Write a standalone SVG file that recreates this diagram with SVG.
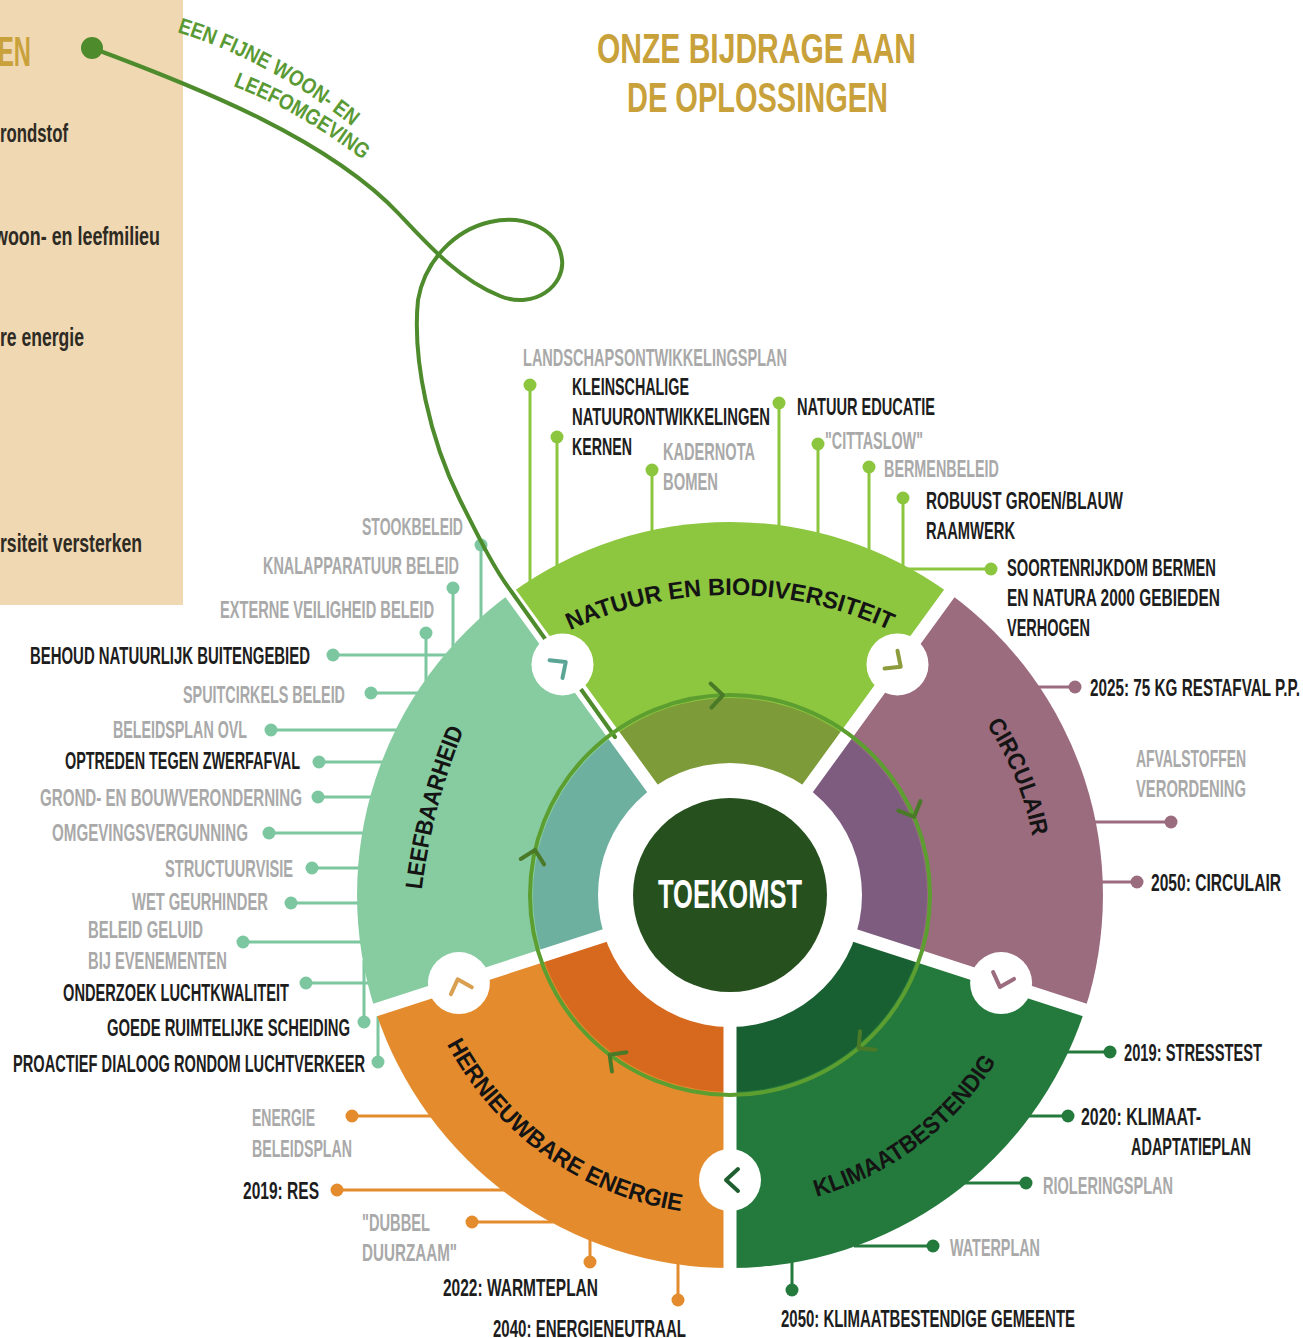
<svg xmlns="http://www.w3.org/2000/svg" width="1303" height="1338" viewBox="0 0 1303 1338">
<defs>
<style>
.t{font-family:"Liberation Sans",Arial,sans-serif;font-weight:bold;font-size:24px}
.k{fill:#1d1d1d}
.g{fill:#a9a9a9}
.sl{font-family:"Liberation Sans",Arial,sans-serif;font-weight:bold;font-size:24px;fill:#141414}
.gap{stroke:#fff;stroke-width:13;fill:none}
.notch{fill:#fff}
.chev{fill:none;stroke-width:4;stroke-linecap:round;stroke-linejoin:round}
.ln{fill:none;stroke-width:3}
</style>
<path id="pNat" d="M523 656.3 A380 380 0 0 1 937 656.3"/>
<path id="pCir" d="M918.3 651.3 A308 308 0 0 1 1035.2 936.3"/>
<path id="pKli" d="M757.4 1207.8 A314 314 0 0 0 1023.1 1007.5"/>
<path id="pHer" d="M426.5 996.5 A320 320 0 0 0 732.8 1215.0"/>
<path id="pLee" d="M421 898 Q430 810 467 722"/>
<path id="pTh1" d="M177 32 Q272 62 353 127"/>
<path id="pTh2" d="M233 86 Q300 112 360 158"/>
</defs>
<rect width="1303" height="1338" fill="#fff"/>

<g id="panel">
<rect x="0" y="0" width="183" height="605" fill="#efd8b2"/>
<text x="-2" y="66" font-family="Liberation Sans,Arial,sans-serif" font-weight="bold" font-size="42" fill="#c9a13b" textLength="33" lengthAdjust="spacingAndGlyphs">EN</text>
<g font-family="Liberation Sans,Arial,sans-serif" font-weight="bold" font-size="26" fill="#2e2a24">
<text x="0" y="142" textLength="68" lengthAdjust="spacingAndGlyphs">rondstof</text>
<text x="-6" y="245" textLength="166" lengthAdjust="spacingAndGlyphs">woon- en leefmilieu</text>
<text x="0" y="346" textLength="84" lengthAdjust="spacingAndGlyphs">re energie</text>
<text x="0" y="552" textLength="142" lengthAdjust="spacingAndGlyphs">rsiteit versterken</text>
</g>
</g>

<g id="title" font-family="Liberation Sans,Arial,sans-serif" font-weight="bold" font-size="43" fill="#c9a13b">
<text x="597" y="63" textLength="319" lengthAdjust="spacingAndGlyphs">ONZE BIJDRAGE AAN</text>
<text x="627" y="112" textLength="261" lengthAdjust="spacingAndGlyphs">DE OPLOSSINGEN</text>
</g>

<g id="connectors">
<g class="ln" stroke="#8cc63f">
<path d="M530 385V582M557 437V566M652 470V532M779 403V527M818 444V535M869 467V551M903 498V566M991 569H903"/>
</g>
<g fill="#8cc63f">
<circle cx="530" cy="385" r="6.5"/><circle cx="557" cy="437" r="6.5"/><circle cx="652" cy="470" r="6.5"/><circle cx="779" cy="403" r="6.5"/><circle cx="818" cy="444" r="6.5"/><circle cx="869" cy="467" r="6.5"/><circle cx="903" cy="498" r="6.5"/><circle cx="991" cy="569" r="6.5"/>
</g>
<g class="ln" stroke="#9b6b7e">
<path d="M1075 687H1038M1171 822H1094M1137 882H1100"/>
</g>
<g fill="#9b6b7e">
<circle cx="1075" cy="687" r="6.5"/><circle cx="1171" cy="822" r="6.5"/><circle cx="1137" cy="882" r="6.5"/>
</g>
<g class="ln" stroke="#247a3c">
<path d="M1110 1052H1066M1068 1116H1028M1026 1183H965M933 1246H854M792 1290V1261"/>
</g>
<g fill="#247a3c">
<circle cx="1110" cy="1052" r="6.5"/><circle cx="1068" cy="1116" r="6.5"/><circle cx="1026" cy="1183" r="6.5"/><circle cx="933" cy="1246" r="6.5"/><circle cx="792" cy="1290" r="6.5"/>
</g>
<g class="ln" stroke="#e48c2d">
<path d="M352 1116H432M337 1190H504M472 1222H553M590 1262V1239M678 1300V1262"/>
</g>
<g fill="#e48c2d">
<circle cx="352" cy="1116" r="6.5"/><circle cx="337" cy="1190" r="6.5"/><circle cx="472" cy="1222" r="6.5"/><circle cx="590" cy="1262" r="6.5"/><circle cx="678" cy="1300" r="6.5"/>
</g>
<g class="ln" stroke="#7dc7a0">
<path d="M481 545V619M453 588V647M426 633V681M333 655H446M371 693H418M271 730H397M319 762H383M318 797H372M269 833H364M312 868H360M291 903H359M243 942H362M306 983H369M364 1022V960M378 1062V1016"/>
</g>
<g fill="#7dc7a0">
<circle cx="481" cy="545" r="6.5"/><circle cx="453" cy="588" r="6.5"/><circle cx="426" cy="633" r="6.5"/><circle cx="333" cy="655" r="6.5"/><circle cx="371" cy="693" r="6.5"/><circle cx="271" cy="730" r="6.5"/><circle cx="319" cy="762" r="6.5"/><circle cx="318" cy="797" r="6.5"/><circle cx="269" cy="833" r="6.5"/><circle cx="312" cy="868" r="6.5"/><circle cx="291" cy="903" r="6.5"/><circle cx="243" cy="942" r="6.5"/><circle cx="306" cy="983" r="6.5"/><circle cx="364" cy="1022" r="6.5"/><circle cx="378" cy="1062" r="6.5"/>
</g>
</g>

<g id="wheel">
<g id="natuur">
<path d="M730 895L510.8 593.2A373 373 0 0 1 949.2 593.2Z" fill="#8dc63f"/>
<path d="M730 895L614.2 735.6A197 197 0 0 1 845.8 735.6Z" fill="#7e9b3a"/>
</g>
<g id="circulair">
<path d="M730 895L949.2 593.2A373 373 0 0 1 1084.7 1010.3Z" fill="#9b6b7e"/>
<path d="M730 895L845.8 735.6A197 197 0 0 1 917.4 955.9Z" fill="#7d5c80"/>
</g>
<g id="klimaatbestendig">
<path d="M730 895L1084.7 1010.3A373 373 0 0 1 730 1268Z" fill="#247a3c"/>
<path d="M730 895L917.4 955.9A197 197 0 0 1 730 1092Z" fill="#185f32"/>
</g>
<g id="hernieuwbare">
<path d="M730 895L730 1268A373 373 0 0 1 375.3 1010.3Z" fill="#e48c2d"/>
<path d="M730 895L730 1092A197 197 0 0 1 542.6 955.9Z" fill="#d6691e"/>
</g>
<g id="leefbaarheid">
<path d="M730 895L375.3 1010.3A373 373 0 0 1 510.8 593.2Z" fill="#86cca0"/>
<path d="M730 895L542.6 955.9A197 197 0 0 1 614.2 735.6Z" fill="#6eb0a0"/>
</g>
<path class="gap" d="M730 895L506 587M730 895L954 587M730 895L1091 1012M730 895L730 1275M730 895L369 1012"/>
</g>

<g id="thread">
<path d="M92 48C200 88 330 140 400 215C430 247 460 280 500 296C535 310 565 285 562 260C558 225 520 215 490 222C455 230 425 260 418 300C412 360 430 440 460 500C480 540 495 570 511 591L615 737" fill="none" stroke="#4e8b2c" stroke-width="4" stroke-linecap="round"/>
<circle cx="92" cy="48" r="11" fill="#4e8b2c"/>
<text font-family="Liberation Sans,Arial,sans-serif" font-weight="bold" font-size="22" fill="#5a9a35"><textPath href="#pTh1" textLength="200" lengthAdjust="spacingAndGlyphs">EEN FIJNE WOON- EN</textPath></text>
<text font-family="Liberation Sans,Arial,sans-serif" font-weight="bold" font-size="22" fill="#5a9a35"><textPath href="#pTh2" textLength="150" lengthAdjust="spacingAndGlyphs">LEEFOMGEVING</textPath></text>
</g>

<g id="notches">
<circle class="notch" cx="562.5" cy="664.4" r="31"/>
<circle class="notch" cx="897.5" cy="664.4" r="31"/>
<circle class="notch" cx="1001.1" cy="983.1" r="31"/>
<circle class="notch" cx="730" cy="1180" r="31"/>
<circle class="notch" cx="458.9" cy="983.1" r="31"/>
<path class="chev" stroke="#5ba596" d="M-8 -11L4 0L-8 11" transform="translate(562.5 664.4) rotate(-36)"/>
<path class="chev" stroke="#8c9c3c" d="M-8 -11L4 0L-8 11" transform="translate(897.5 664.4) rotate(36)"/>
<path class="chev" stroke="#9b6b7e" d="M-8 -11L4 0L-8 11" transform="translate(1001.1 983.1) rotate(108)"/>
<path class="chev" stroke="#1f5f2f" d="M-8 -11L4 0L-8 11" transform="translate(730 1180) rotate(180)"/>
<path class="chev" stroke="#d8a050" d="M-8 -11L4 0L-8 11" transform="translate(458.9 983.1) rotate(252)"/>
</g>

<g id="toekomst">
<circle cx="730" cy="895" r="132" fill="#fff"/>
<circle cx="730" cy="895" r="97" fill="#26501e"/>
<text x="658" y="908" font-family="Liberation Sans,Arial,sans-serif" font-weight="bold" font-size="40" fill="#fff" textLength="144" lengthAdjust="spacingAndGlyphs">TOEKOMST</text>
</g>

<g id="cycle">
<circle cx="730" cy="895" r="200" fill="none" stroke="#5c9e30" stroke-width="4"/>
<g class="chev" stroke="#4a7a28">
<path d="M-12 -12L0 0L-12 12" transform="translate(723 695.1) rotate(-2)"/>
<path d="M-12 -12L0 0L-12 12" transform="translate(914.1 816.9) rotate(67)"/>
<path d="M-12 -12L0 0L-12 12" transform="translate(858.6 1048.2) rotate(140)"/>
<path d="M-12 -12L0 0L-12 12" transform="translate(609.6 1054.7) rotate(217)"/>
<path d="M-12 -12L0 0L-12 12" transform="translate(535.1 850) rotate(283)"/>
</g>
</g>

<g id="segment-labels">
<text class="sl"><textPath href="#pNat" startOffset="50%" text-anchor="middle" textLength="330" lengthAdjust="spacingAndGlyphs">NATUUR EN BIODIVERSITEIT</textPath></text>
<text class="sl"><textPath href="#pCir" startOffset="50%" text-anchor="middle" textLength="122" lengthAdjust="spacingAndGlyphs">CIRCULAIR</textPath></text>
<text class="sl"><textPath href="#pKli" startOffset="50%" text-anchor="middle" textLength="230" lengthAdjust="spacingAndGlyphs">KLIMAATBESTENDIG</textPath></text>
<text class="sl"><textPath href="#pHer" startOffset="50%" text-anchor="middle" textLength="298" lengthAdjust="spacingAndGlyphs">HERNIEUWBARE ENERGIE</textPath></text>
<text class="sl"><textPath href="#pLee" startOffset="50%" text-anchor="middle" textLength="166" lengthAdjust="spacingAndGlyphs">LEEFBAARHEID</textPath></text>
</g>

<g id="labels-natuur" class="t">
<text class="g" x="523" y="366" textLength="264" lengthAdjust="spacingAndGlyphs">LANDSCHAPSONTWIKKELINGSPLAN</text>
<text class="k" x="572" y="395" textLength="117" lengthAdjust="spacingAndGlyphs">KLEINSCHALIGE</text>
<text class="k" x="572" y="425" textLength="198" lengthAdjust="spacingAndGlyphs">NATUURONTWIKKELINGEN</text>
<text class="k" x="572" y="455" textLength="60" lengthAdjust="spacingAndGlyphs">KERNEN</text>
<text class="g" x="663" y="460" textLength="92" lengthAdjust="spacingAndGlyphs">KADERNOTA</text>
<text class="g" x="663" y="490" textLength="55" lengthAdjust="spacingAndGlyphs">BOMEN</text>
<text class="k" x="797" y="415" textLength="138" lengthAdjust="spacingAndGlyphs">NATUUR EDUCATIE</text>
<text class="g" x="825" y="449" textLength="98" lengthAdjust="spacingAndGlyphs">"CITTASLOW"</text>
<text class="g" x="884" y="477" textLength="115" lengthAdjust="spacingAndGlyphs">BERMENBELEID</text>
<text class="k" x="926" y="509" textLength="197" lengthAdjust="spacingAndGlyphs">ROBUUST GROEN/BLAUW</text>
<text class="k" x="926" y="539" textLength="89" lengthAdjust="spacingAndGlyphs">RAAMWERK</text>
<text class="k" x="1007" y="576" textLength="209" lengthAdjust="spacingAndGlyphs">SOORTENRIJKDOM BERMEN</text>
<text class="k" x="1007" y="606" textLength="213" lengthAdjust="spacingAndGlyphs">EN NATURA 2000 GEBIEDEN</text>
<text class="k" x="1007" y="636" textLength="83" lengthAdjust="spacingAndGlyphs">VERHOGEN</text>
</g>

<g id="labels-circulair" class="t">
<text class="k" x="1090" y="696" textLength="210" lengthAdjust="spacingAndGlyphs">2025: 75 KG RESTAFVAL P.P.</text>
<text class="g" x="1136" y="767" textLength="110" lengthAdjust="spacingAndGlyphs">AFVALSTOFFEN</text>
<text class="g" x="1136" y="797" textLength="110" lengthAdjust="spacingAndGlyphs">VERORDENING</text>
<text class="k" x="1151" y="891" textLength="130" lengthAdjust="spacingAndGlyphs">2050: CIRCULAIR</text>
</g>

<g id="labels-klimaat" class="t">
<text class="k" x="1124" y="1061" textLength="138" lengthAdjust="spacingAndGlyphs">2019: STRESSTEST</text>
<text class="k" x="1081" y="1125" textLength="120" lengthAdjust="spacingAndGlyphs">2020: KLIMAAT-</text>
<text class="k" x="1131" y="1155" textLength="120" lengthAdjust="spacingAndGlyphs">ADAPTATIEPLAN</text>
<text class="g" x="1043" y="1194" textLength="130" lengthAdjust="spacingAndGlyphs">RIOLERINGSPLAN</text>
<text class="g" x="950" y="1256" textLength="90" lengthAdjust="spacingAndGlyphs">WATERPLAN</text>
<text class="k" x="781" y="1327" textLength="294" lengthAdjust="spacingAndGlyphs">2050: KLIMAATBESTENDIGE GEMEENTE</text>
</g>

<g id="labels-hernieuwbaar" class="t">
<text class="g" x="252" y="1126" textLength="63" lengthAdjust="spacingAndGlyphs">ENERGIE</text>
<text class="g" x="252" y="1157" textLength="100" lengthAdjust="spacingAndGlyphs">BELEIDSPLAN</text>
<text class="k" x="243" y="1199" textLength="76" lengthAdjust="spacingAndGlyphs">2019: RES</text>
<text class="g" x="362" y="1231" textLength="68" lengthAdjust="spacingAndGlyphs">"DUBBEL</text>
<text class="g" x="362" y="1261" textLength="95" lengthAdjust="spacingAndGlyphs">DUURZAAM"</text>
<text class="k" x="443" y="1296" textLength="155" lengthAdjust="spacingAndGlyphs">2022: WARMTEPLAN</text>
<text class="k" x="493" y="1337" textLength="193" lengthAdjust="spacingAndGlyphs">2040: ENERGIENEUTRAAL</text>
</g>

<g id="labels-leefbaarheid" class="t">
<text class="g" x="362" y="535" textLength="101" lengthAdjust="spacingAndGlyphs">STOOKBELEID</text>
<text class="g" x="263" y="574" textLength="196" lengthAdjust="spacingAndGlyphs">KNALAPPARATUUR BELEID</text>
<text class="g" x="220" y="618" textLength="214" lengthAdjust="spacingAndGlyphs">EXTERNE VEILIGHEID BELEID</text>
<text class="k" x="30" y="664" textLength="280" lengthAdjust="spacingAndGlyphs">BEHOUD NATUURLIJK BUITENGEBIED</text>
<text class="g" x="183" y="703" textLength="162" lengthAdjust="spacingAndGlyphs">SPUITCIRKELS BELEID</text>
<text class="g" x="113" y="738" textLength="134" lengthAdjust="spacingAndGlyphs">BELEIDSPLAN OVL</text>
<text class="k" x="65" y="769" textLength="235" lengthAdjust="spacingAndGlyphs">OPTREDEN TEGEN ZWERFAFVAL</text>
<text class="g" x="40" y="806" textLength="262" lengthAdjust="spacingAndGlyphs">GROND- EN BOUWVERONDERNING</text>
<text class="g" x="52" y="841" textLength="196" lengthAdjust="spacingAndGlyphs">OMGEVINGSVERGUNNING</text>
<text class="g" x="165" y="877" textLength="128" lengthAdjust="spacingAndGlyphs">STRUCTUURVISIE</text>
<text class="g" x="132" y="910" textLength="136" lengthAdjust="spacingAndGlyphs">WET GEURHINDER</text>
<text class="g" x="88" y="938" textLength="115" lengthAdjust="spacingAndGlyphs">BELEID GELUID</text>
<text class="g" x="88" y="969" textLength="139" lengthAdjust="spacingAndGlyphs">BIJ EVENEMENTEN</text>
<text class="k" x="63" y="1001" textLength="226" lengthAdjust="spacingAndGlyphs">ONDERZOEK LUCHTKWALITEIT</text>
<text class="k" x="107" y="1036" textLength="243" lengthAdjust="spacingAndGlyphs">GOEDE RUIMTELIJKE SCHEIDING</text>
<text class="k" x="13" y="1072" textLength="352" lengthAdjust="spacingAndGlyphs">PROACTIEF DIALOOG RONDOM LUCHTVERKEER</text>
</g>
</svg>
